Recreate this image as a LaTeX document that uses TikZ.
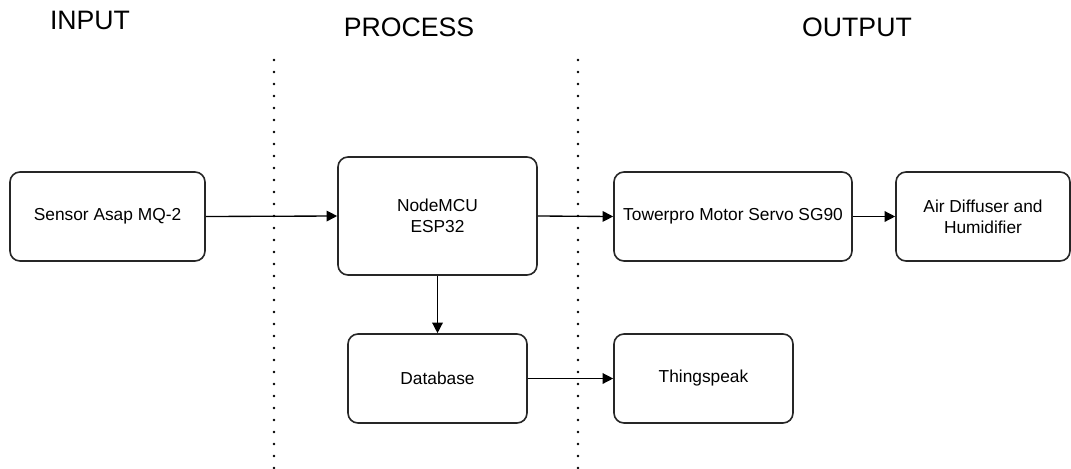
\documentclass[tikz,border=0pt]{standalone}
\usepackage{fontspec}
\setmainfont{Liberation Sans}
\usetikzlibrary{arrows.meta}
\begin{document}
\begin{tikzpicture}[x=0.75pt,y=-0.75pt,
  box/.style={draw=black!85, line width=1.2pt, rounded corners=7.5pt, fill=white, align=center, font=\fontsize{13}{15.5}\selectfont, inner sep=0pt},
  conn/.style={draw=black, line width=1pt, -{Triangle[length=8pt,width=8pt]}},
  sep/.style={draw=black, line width=2pt, dash pattern=on 0pt off 9pt, line cap=round},
  head/.style={font=\fontsize{20}{24}\selectfont}]
\useasboundingbox (0,0) rectangle (1071,468);
\draw[sep] (274,60) -- (274,468);
\draw[sep] (578,60) -- (578,468);
\node[head] (hin) at (90,20) {INPUT};
\node[head] (hpr) at (409,27) {PROCESS};
\node[head] (hout) at (857,27) {OUTPUT};
\node[box, minimum width=146.25pt, minimum height=66.75pt] (sensor) at (107.5,216.5) {Sensor Asap MQ-2};
\node[box, minimum width=149.25pt, minimum height=88.5pt] (mcu) at (437.5,216) {NodeMCU\\ESP32};
\node[box, minimum width=178.5pt, minimum height=66.75pt] (servo) at (733,216.5) {Towerpro Motor Servo SG90};
\node[box, minimum width=130.5pt, minimum height=66.75pt] (air) at (983,216.5) {Air Diffuser and\\Humidifier};
\node[box, minimum width=134.25pt, minimum height=66.75pt] (db) at (437.5,378.5) {Database};
\node[box, minimum width=134.25pt, minimum height=66.75pt] (ts) at (703.5,378.5) {Thingspeak};
\draw[conn] (sensor.east) -- (mcu.west);
\draw[conn] (mcu.east) -- (servo.west);
\draw[conn] (servo.east) -- (air.west);
\draw[conn] (mcu.south) -- (db.north);
\draw[conn] (db.east) -- (ts.west);
\end{tikzpicture}
\end{document}
